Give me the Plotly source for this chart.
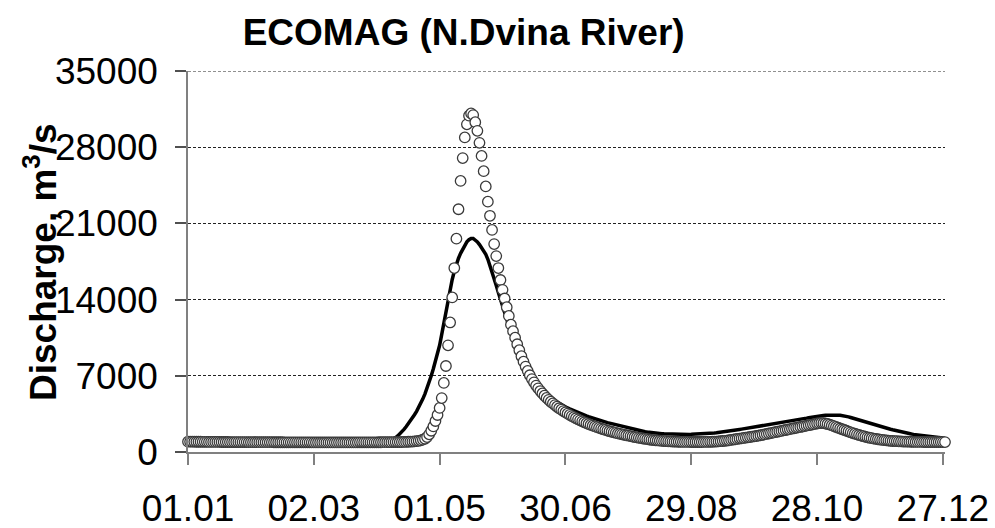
import plotly.graph_objects as go

# Day of year (0 = 1 January) for each daily value
days = list(range(365))

# Observed daily discharge, m3/s
observed = [
    950, 950, 945, 945, 940, 940, 940, 935, 935, 935,
    930, 930, 930, 925, 925, 925, 920, 920, 920, 920,
    915, 915, 915, 915, 910, 910, 910, 910, 910, 905,
    905, 905, 905, 905, 900, 900, 900, 900, 900, 900,
    900, 895, 895, 895, 895, 895, 890, 890, 890, 890,
    890, 890, 890, 885, 885, 885, 885, 885, 885, 885,
    880, 880, 880, 880, 880, 880, 880, 880, 880, 880,
    880, 880, 880, 880, 880, 880, 880, 880, 880, 880,
    880, 880, 885, 885, 885, 885, 885, 890, 890, 890,
    890, 895, 895, 900, 900, 900, 905, 905, 910, 910,
    915, 915, 920, 925, 930, 940, 950, 960, 980, 1000,
    1030, 1070, 1130, 1220, 1370, 1620, 1950, 2350, 2850, 3400,
    4050, 4950, 6350, 7900, 9800, 11900, 14200, 16900, 19600, 22300,
    24900, 27000, 28900, 30100, 30900, 31100, 30950, 30300, 29500, 28400,
    27200, 25800, 24400, 23000, 21700, 20400, 19100, 18000, 16900, 15800,
    14900, 14100, 13300, 12500, 11700, 11100, 10500, 9900, 9350, 8800,
    8300, 7850, 7450, 7050, 6700, 6400, 6100, 5850, 5600, 5380,
    5170, 4970, 4790, 4620, 4460, 4310, 4160, 4020, 3890, 3760,
    3640, 3520, 3410, 3300, 3200, 3100, 3000, 2910, 2820, 2730,
    2650, 2570, 2490, 2420, 2350, 2280, 2210, 2150, 2090, 2030,
    1970, 1910, 1860, 1810, 1760, 1710, 1660, 1620, 1580, 1540,
    1500, 1460, 1420, 1380, 1340, 1300, 1270, 1240, 1210, 1180,
    1150, 1120, 1100, 1080, 1060, 1040, 1020, 1000, 990, 980,
    970, 960, 950, 945, 940, 935, 930, 930, 925, 925,
    920, 920, 920, 920, 920, 920, 925, 925, 930, 935,
    940, 950, 960, 975, 990, 1010, 1030, 1050, 1080, 1110,
    1140, 1170, 1200, 1230, 1260, 1290, 1320, 1350, 1380, 1410,
    1440, 1470, 1500, 1540, 1580, 1620, 1660, 1700, 1740, 1780,
    1820, 1860, 1900, 1940, 1980, 2020, 2060, 2100, 2140, 2180,
    2220, 2260, 2300, 2340, 2380, 2420, 2460, 2500, 2540, 2580,
    2620, 2650, 2660, 2650, 2620, 2570, 2510, 2440, 2370, 2300,
    2230, 2160, 2090, 2020, 1950, 1880, 1810, 1740, 1680, 1620,
    1560, 1500, 1450, 1400, 1350, 1310, 1270, 1230, 1200, 1170,
    1140, 1110, 1090, 1070, 1050, 1030, 1010, 1000, 990, 980,
    970, 960, 955, 950, 945, 940, 935, 930, 930, 925,
    925, 920, 920, 920, 920, 915, 915, 915, 915, 915,
    910, 910, 910, 910, 910,
]

# ECOMAG simulated daily discharge, m3/s
simulated = [
    960, 960, 955, 955, 950, 950, 950, 945, 945, 945,
    940, 940, 940, 935, 935, 935, 930, 930, 930, 930,
    925, 925, 925, 925, 920, 920, 920, 920, 920, 915,
    915, 915, 915, 915, 910, 910, 910, 910, 910, 910,
    905, 905, 905, 905, 905, 905, 900, 900, 900, 900,
    900, 900, 900, 900, 900, 900, 900, 900, 900, 900,
    900, 900, 900, 900, 900, 900, 905, 905, 905, 905,
    905, 910, 910, 910, 915, 915, 920, 920, 925, 925,
    930, 935, 940, 945, 950, 955, 955, 955, 955, 955,
    960, 970, 980, 990, 1000, 1020, 1060, 1120, 1200, 1330,
    1480, 1660, 1860, 2080, 2320, 2570, 2840, 3120, 3420, 3740,
    4080, 4460, 4880, 5340, 5840, 6400, 7000, 7650, 8350, 9050,
    9800, 10800, 11900, 13000, 14050, 15000, 15850, 16600, 17250, 17800,
    18250, 18650, 19000, 19300, 19500, 19620, 19620, 19500, 19300, 19050,
    18750, 18450, 18150, 17700, 17150, 16550, 15950, 15300, 14650, 14000,
    13350, 12700, 12080, 11480, 10900, 10350, 9830, 9340, 8880, 8440,
    8100, 7700, 7350, 7020, 6720, 6450, 6200, 5970, 5760, 5570,
    5390, 5230, 5080, 4940, 4810, 4690, 4570, 4460, 4350, 4250,
    4150, 4050, 3960, 3870, 3780, 3700, 3620, 3540, 3460, 3390,
    3320, 3250, 3180, 3110, 3050, 2990, 2930, 2870, 2810, 2760,
    2700, 2650, 2600, 2550, 2500, 2460, 2420, 2380, 2340, 2300,
    2220, 2170, 2120, 2070, 2020, 1980, 1940, 1900, 1860, 1830,
    1800, 1770, 1740, 1720, 1700, 1690, 1680, 1670, 1660, 1650,
    1640, 1630, 1625, 1620, 1615, 1610, 1610, 1610, 1610, 1615,
    1620, 1625, 1630, 1640, 1650, 1660, 1670, 1685, 1700, 1715,
    1730, 1750, 1770, 1790, 1810, 1830, 1860, 1890, 1920, 1950,
    1980, 2010, 2040, 2070, 2100, 2130, 2160, 2190, 2220, 2250,
    2280, 2310, 2340, 2370, 2400, 2430, 2460, 2490, 2520, 2550,
    2580, 2610, 2640, 2670, 2700, 2730, 2760, 2790, 2830, 2870,
    2910, 2950, 2990, 3030, 3070, 3110, 3150, 3190, 3230, 3260,
    3290, 3320, 3340, 3360, 3380, 3390, 3400, 3400, 3400, 3395,
    3385, 3370, 3350, 3320, 3280, 3230, 3170, 3110, 3050, 2990,
    2930, 2870, 2810, 2750, 2690, 2630, 2570, 2510, 2450, 2390,
    2340, 2290, 2240, 2190, 2140, 2090, 2040, 1990, 1940, 1890,
    1850, 1810, 1770, 1730, 1690, 1650, 1620, 1590, 1560, 1530,
    1500, 1475, 1450, 1425, 1400, 1380, 1360, 1340, 1320, 1300,
    1280, 1265, 1250, 1235, 1220,
]

# Axis ticks
x_tick_days = [0, 60, 120, 180, 240, 300, 360]
x_tick_text = ["01.01", "02.03", "01.05", "30.06", "29.08", "28.10", "27.12"]
y_ticks = [0, 7000, 14000, 21000, 28000, 35000]
y_max = 35000

FONT = "Liberation Sans, Arial, sans-serif"
GRID_DASH = "3px,2px"
GRID_COLOR = "#222222"

fig = go.Figure()

fig.add_trace(go.Scatter(
    x=days, y=simulated, mode="lines", name="Simulated",
    line=dict(color="black", width=3.5),
    hoverinfo="skip",
))

fig.add_trace(go.Scatter(
    x=days, y=observed, mode="markers", name="Observed",
    marker=dict(symbol="circle", size=10.5, color="white",
                line=dict(color="#3a3a3a", width=1.3)),
    cliponaxis=False,
))

# Dashed gridline along the top edge of the value axis
fig.add_shape(
    type="line", xref="paper", x0=0, x1=1, yref="y", y0=y_max, y1=y_max,
    line=dict(color=GRID_COLOR, width=1, dash=GRID_DASH), layer="below",
)

fig.update_layout(
    width=995, height=528, autosize=False,
    margin=dict(l=188, r=50, t=71, b=76, autoexpand=False),
    paper_bgcolor="white", plot_bgcolor="white",
    showlegend=False,
    font=dict(family=FONT, color="black", size=37),
    title=dict(
        text="<b>ECOMAG (N.Dvina River)</b>",
        font=dict(family=FONT, size=37, color="black"),
        x=0.466, xanchor="center", xref="container",
        y=1 - 32 / 528, yanchor="middle", yref="container",
    ),
    xaxis=dict(
        range=[0, 361], automargin=False,
        tickmode="array", tickvals=x_tick_days, ticktext=x_tick_text,
        ticks="outside", ticklen=11, tickwidth=1.5, tickcolor="#808080",
        showline=True, linecolor="#808080", linewidth=1.5,
        showgrid=False, zeroline=False,
        tickfont=dict(family=FONT, size=37, color="black"),
        ticklabelstandoff=12,
    ),
    yaxis=dict(
        range=[0, y_max], automargin=False,
        tickmode="array", tickvals=y_ticks,
        ticktext=[str(v) for v in y_ticks],
        ticks="outside", ticklen=11, tickwidth=1.5, tickcolor="#505050",
        showline=True, linecolor="#808080", linewidth=1.5,
        showgrid=True, gridcolor=GRID_COLOR, gridwidth=1, griddash=GRID_DASH,
        zeroline=False,
        tickfont=dict(family=FONT, size=37, color="black"),
        ticklabelstandoff=10,
    ),
    annotations=[dict(
        text="<b>Discharge, m<sup>3</sup>/s</b>",
        textangle=-90,
        xref="paper", yref="paper",
        x=(40 - 188) / 757, y=(452 - 262) / 381,
        xanchor="center", yanchor="middle",
        showarrow=False,
        font=dict(family=FONT, size=37, color="black"),
    )],
)

fig.write_html("out.html")
